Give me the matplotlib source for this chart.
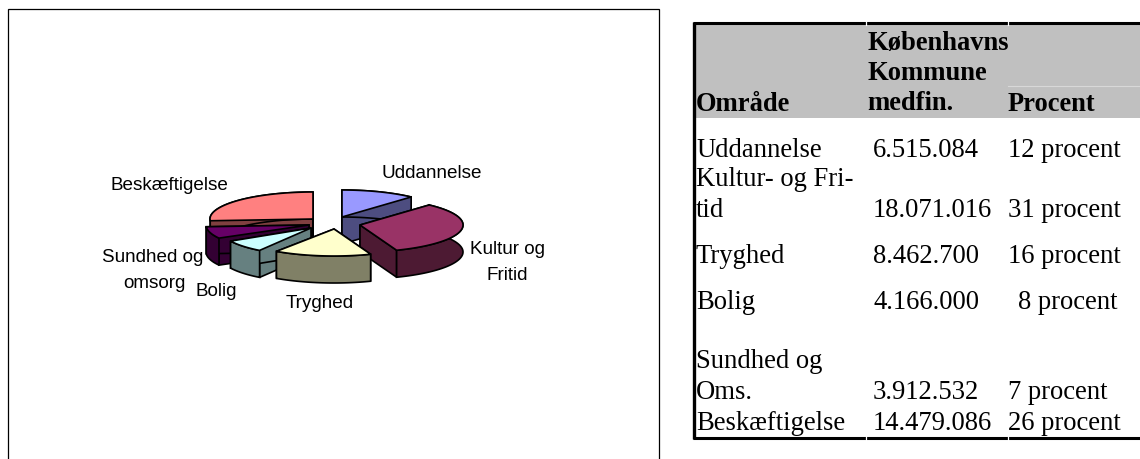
import numpy as np
import matplotlib
matplotlib.use("Agg")
import matplotlib.pyplot as plt
from matplotlib.patches import Polygon, Rectangle

# ---- data ----
omraade = ["Uddannelse", "Kultur og\nFritid", "Tryghed", "Bolig", "Sundhed og\nomsorg", "Beskæftigelse"]
medfin = [6515084, 18071016, 8462700, 4166000, 3912532, 14479086]
top_colors = ["#9999FF", "#993366", "#FFFFCC", "#CCFFFF", "#660066", "#FF8080"]
side_colors = ["#4D4D80", "#4D1A33", "#808066", "#668080", "#330033", "#804040"]

tbl_col1 = ["Uddannelse", "Kultur- og Fri-\ntid", "Tryghed", "Bolig", "Sundhed og\nOms.", "Beskæftigelse"]
tbl_col2 = ["6.515.084", "18.071.016", "8.462.700", "4.166.000", "3.912.532", "14.479.086"]
tbl_col3 = ["12 procent", "31 procent", "16 procent", "8 procent", "7 procent", "26 procent"]
tbl_head = ["Område", "Københavns\nKommune\nmedfin.", "Procent"]

# ---- layout (pixels) ----
apex = [(342, 217), (360, 225), (334, 229), (311, 228), (309, 225), (313, 219)]
radius_x = [103, 103, 103, 92, 103, 103]
RY, DEPTH = 27, 27
draw_order = [0, 5, 4, 3, 1, 2]
label_xy = [[(432, 174)], [(507, 250), (507, 276)], [(320, 303)],
            [(216, 291)], [(153, 258), (154, 283)], [(169, 185)]]
row_base = [157, 217, 263, 309, 399, 430]
col_x = [696, 873, 1008]
pct_x = [1008, 1008, 1008, 1018, 1008, 1008]

fig = plt.figure(figsize=(11.4, 4.59), dpi=100)
ax = fig.add_axes([0, 0, 1, 1])
ax.set_xlim(0, 1140)
ax.set_ylim(459, 0)
ax.axis("off")

# chart frame
ax.plot([8, 8, 659, 659], [459, 9, 9, 459], color="black", lw=0.9, solid_joinstyle="miter")

# pie
edges = np.concatenate([[0], np.cumsum(medfin)]) / np.sum(medfin) * 2 * np.pi


def rim(c, th, rx):
    return np.column_stack([c[0] + rx * np.sin(th), c[1] - RY * np.cos(th)])


z = 2
for i in draw_order:
    c = np.array(apex[i], float)
    th = np.linspace(edges[i], edges[i + 1], 80)
    r = rim(c, th, radius_x[i])
    down = np.array([0, DEPTH])
    for p in (r[0], r[-1]):
        ax.add_patch(Polygon([c, p, p + down, c + down], closed=True, fc=side_colors[i],
                             ec="black", lw=1.2, zorder=z))
        z += 1
    ax.add_patch(Polygon(np.vstack([r, (r + down)[::-1]]), closed=True, fc=side_colors[i],
                         ec="black", lw=1.2, zorder=z))
    z += 1
    ax.add_patch(Polygon(np.vstack([c, r]), closed=True, fc=top_colors[i],
                         ec="black", lw=1.2, zorder=z))
    z += 1

for name, spots in zip(omraade, label_xy):
    for line, (x, y) in zip(name.split("\n"), spots):
        ax.text(x, y, line, ha="center", va="center", fontsize=13.6, family="Liberation Sans",
                color="black", zorder=100)

# table
ax.add_patch(Rectangle((694, 24), 446, 94, fc="#C0C0C0", ec="none", zorder=1))
ax.plot([1008, 1140], [86, 86], color="#D8D8D8", lw=0.8, zorder=2)
ax.plot([694, 694], [22, 439], color="black", lw=2.4, zorder=3, solid_capstyle="butt")
for y in (23, 438):
    ax.plot([693, 1140], [y, y], color="black", lw=2.2, zorder=3, solid_capstyle="butt")
    for gx in (865.5, 1007.5):
        ax.plot([gx, gx], [y - 2, y + 2], color="white", lw=0.9, zorder=4)

serif = "Liberation Serif"
ts = 19.2
bold = dict(family=serif, fontweight="bold", fontsize=19.1, va="baseline", zorder=5, color="black")
ax.text(col_x[0], 111, tbl_head[0], ha="left", **bold)
ax.text(col_x[2], 111, tbl_head[2], ha="left", **bold)
for j, line in enumerate(tbl_head[1].split("\n")):
    ax.text(867, 50 + j * 30, line, ha="left", **bold)

reg = dict(family=serif, fontsize=ts, va="baseline", zorder=5, color="black")
for i in range(len(tbl_col1)):
    lines = tbl_col1[i].split("\n")
    for j, line in enumerate(lines):
        ax.text(col_x[0], row_base[i] - (len(lines) - 1 - j) * 30.5, line, ha="left", **reg)
    ax.text(col_x[1], row_base[i], tbl_col2[i], ha="left", **reg)
    ax.text(pct_x[i], row_base[i], tbl_col3[i], ha="left", **reg)

fig.savefig("out.png", dpi=100)
